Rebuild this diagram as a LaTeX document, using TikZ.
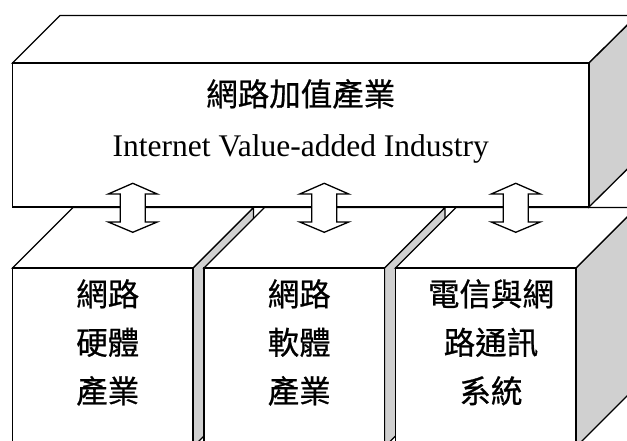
\documentclass[tikz,border=0pt]{standalone}
\usepackage{fontspec}
\setmainfont{Liberation Serif}
\newfontfamily\cjk[FakeBold=0.7]{Noto Sans CJK TC}
\definecolor{sidegray}{RGB}{208,208,208}
\begin{document}
\begin{tikzpicture}[x=1pt,y=-1pt, line width=1.3pt, line join=miter,
  face/.style={draw=black, fill=white},
  side/.style={draw=black, fill=sidegray},
  cjktext/.style={font=\cjk\fontsize{31.5}{36}\selectfont, text height=0.88em, text depth=0.12em, inner sep=0pt},
  entext/.style={font=\fontsize{31.5}{36}\selectfont, inner sep=0pt, anchor=base},
  dblarrow/.style={draw=black, fill=white}]
\useasboundingbox (0,0) rectangle (627,441);
\clip (0,0) rectangle (627,441);
% bottom boxes
\foreach \x in {12.5,204,395.5}{
  \pgfmathsetmacro{\xr}{\x+180.5}
  \draw[side] (\xr,268) -- (\xr+60.5,207.5) -- (\xr+60.5,386.5) -- (\xr,447) -- cycle;
  \draw[face] (\x,268) -- (\x+60.5,207.5) -- (\xr+60.5,207.5) -- (\xr,268) -- cycle;
  \draw[face] (\x,268) rectangle (\xr,447);
}
% top box
\draw[face] (12.5,63) -- (60,15.5) -- (637,15.5) -- (589,63) -- cycle;
\draw[side] (589,63) -- (637,15.5) -- (637,159.5) -- (589,207) -- cycle;
\draw[face] (12.5,63) rectangle (589,207);
% double arrows
\foreach \c in {132.75,324.25,515.75}{
  \draw[dblarrow] (\c,183.3) -- (\c+24.5,194) -- (\c+12.5,194) -- (\c+12.5,222) -- (\c+24.5,222)
    -- (\c,232.3) -- (\c-24.5,222) -- (\c-12.5,222) -- (\c-12.5,194) -- (\c-24.5,194) -- cycle;
}
% texts
\node[cjktext] (topcn) at (300.75,102) {網路加值產業};
\node[entext] (topen) at (300.75,157) {Internet Value-added Industry};
\node[cjktext] (a1) at (107.75,302) {網路};
\node[cjktext] (a2) at (107.75,350.5) {硬體};
\node[cjktext] (a3) at (107.75,399) {產業};
\node[cjktext] (b1) at (299.25,302) {網路};
\node[cjktext] (b2) at (299.25,350.5) {軟體};
\node[cjktext] (b3) at (299.25,399) {產業};
\node[cjktext] (c1) at (491,302) {電信與網};
\node[cjktext] (c2) at (491,350.5) {路通訊};
\node[cjktext] (c3) at (491,399) {系統};
\end{tikzpicture}
\end{document}
